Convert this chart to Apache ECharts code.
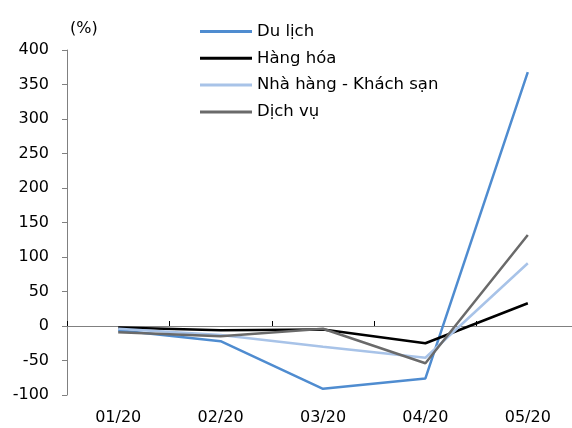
<!DOCTYPE html>
<html>
<head>
<meta charset="utf-8">
<script src="https://cdn.jsdelivr.net/npm/echarts@6/dist/echarts.min.js"></script>
<style>
  html, body { margin: 0; padding: 0; background: #fff; }
  #chart { width: 572px; height: 428px; }
</style>
</head>
<body>
<div id="chart"></div>
<script>
// Monthly change (%) by sector, 01/20 – 05/20
const months = ['01/20', '02/20', '03/20', '04/20', '05/20'];
const duLich = [-6, -22, -91, -76, 368];
const hangHoa = [-2, -6, -5, -25, 33];
const nhaHangKhachSan = [-4, -13, -30, -46, 91];
const dichVu = [-9, -15, -4, -54, 132];
const yTicks = { min: -100, max: 400, step: 50 };

const font = '"DejaVu Sans", Verdana, sans-serif';
const chart = echarts.init(document.getElementById('chart'), null, { renderer: 'canvas' });

function lineSeries(name, data, color, width) {
  return {
    name: name,
    type: 'line',
    data: data,
    xAxisIndex: 0,
    symbol: 'none',
    lineStyle: { color: color, width: width },
    itemStyle: { color: color },
    animation: false
  };
}

chart.setOption({
  animation: false,
  grid: { left: 67, width: 512, top: 50, bottom: 33, outerBoundsMode: 'none', containLabel: false },
  legend: {
    orient: 'vertical',
    left: 195,
    top: 18,
    itemWidth: 52,
    itemHeight: 3,
    itemGap: 9.8,
    icon: 'rect',
    textStyle: { fontFamily: font, fontSize: 16.5, color: '#000' },
    data: ['Du lịch', 'Hàng hóa', 'Nhà hàng - Khách sạn', 'Dịch vụ']
  },
  graphic: [{
    type: 'text',
    left: 70,
    top: 21,
    style: { text: '(%)', font: '16px "DejaVu Sans", Verdana, sans-serif', fill: '#000' }
  }],
  xAxis: [
    {
      // category labels along the bottom edge
      type: 'category',
      data: months,
      position: 'bottom',
      axisLine: { show: false, onZero: false },
      axisTick: { show: false },
      axisLabel: { margin: 15, fontFamily: font, fontSize: 16, color: '#000' }
    },
    {
      // baseline at zero with inward ticks between months
      type: 'category',
      data: months,
      position: 'bottom',
      axisLine: { show: true, onZero: true, lineStyle: { color: '#808080', width: 1 } },
      axisTick: { show: true, inside: true, length: 5, lineStyle: { color: '#000' } },
      axisLabel: { show: false }
    }
  ],
  yAxis: {
    type: 'value',
    min: yTicks.min,
    max: yTicks.max,
    interval: yTicks.step,
    axisLine: { show: true, lineStyle: { color: '#808080', width: 1 } },
    axisTick: { show: true, length: 5, lineStyle: { color: '#808080' } },
    splitLine: { show: false },
    axisLabel: { margin: 18, fontFamily: font, fontSize: 16, color: '#000' }
  },
  series: [
    lineSeries('Du lịch', duLich, '#4f8cd0', 2.5),
    lineSeries('Hàng hóa', hangHoa, '#000000', 2.5),
    lineSeries('Nhà hàng - Khách sạn', nhaHangKhachSan, '#a8c3e8', 2.5),
    lineSeries('Dịch vụ', dichVu, '#6a6a6a', 2.5)
  ]
});
</script>
</body>
</html>
